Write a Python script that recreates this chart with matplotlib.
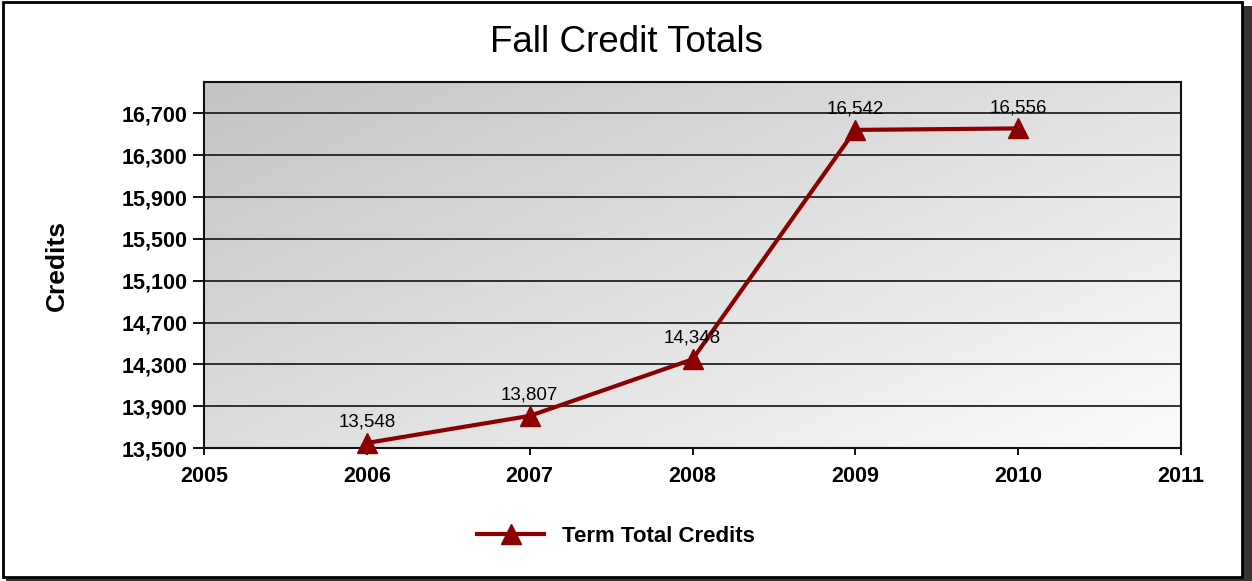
import matplotlib
matplotlib.use("Agg")
import matplotlib.pyplot as plt
import numpy as np
from matplotlib.patches import Rectangle
from matplotlib.ticker import FuncFormatter

years = [2006, 2007, 2008, 2009, 2010]
credits = [13548, 13807, 14348, 16542, 16556]
y_ticks = [13500, 13900, 14300, 14700, 15100, 15500, 15900, 16300, 16700]
x_ticks = [2005, 2006, 2007, 2008, 2009, 2010, 2011]
series_name = "Term Total Credits"

plt.rcParams['font.family'] = ['Liberation Sans', 'DejaVu Sans']

W, H = 1252, 581
fig = plt.figure(figsize=(W / 100, H / 100), dpi=100)
fig.patch.set_facecolor('white')

# border with shadow
fig.patches.append(Rectangle((6 / W, 0), (W - 6) / W, (H - 6) / H, transform=fig.transFigure,
                             facecolor='#333333', edgecolor='none', zorder=0))
fig.patches.append(Rectangle((3 / W, 4 / H), (1242 - 3) / W, (579 - 4) / H, transform=fig.transFigure,
                             facecolor='white', edgecolor='black', linewidth=2, zorder=1))

left, right, top, bottom = 204, 1181, 82, 448
ax = fig.add_axes([left / W, 1 - bottom / H, (right - left) / W, (bottom - top) / H])
ax.set_zorder(2)

# gradient background
gx = np.linspace(0, 1, 200)
gy = np.linspace(0, 1, 100)
GX, GY = np.meshgrid(gx, gy)
grad = (GX * 0.55 + GY * 0.45)
ax.imshow(grad, cmap=matplotlib.colors.LinearSegmentedColormap.from_list('g', ['#c4c4c4', '#fbfbfb']),
          extent=[2005, 2011, 13500, 17000], aspect='auto', origin='upper', zorder=0)

ax.set_xlim(2005, 2011)
ax.set_ylim(13500, 17000)
ax.set_yticks(y_ticks)
ax.set_xticks(x_ticks)
ax.yaxis.set_major_formatter(FuncFormatter(lambda v, p: f"{int(v):,}"))
for yv in y_ticks[1:]:
    ax.axhline(yv, color='#222222', linewidth=1.3, zorder=1)

ax.plot(years, credits, color='#8b0000', linewidth=3, marker='^', markersize=14,
        label=series_name, zorder=3, clip_on=False)
for xv, yv in zip(years, credits):
    ax.annotate(f"{yv:,}", (xv, yv), xytext=(0, 15), textcoords='offset points',
                ha='center', va='center', fontsize=13.5, color='black', zorder=4)

for s in ax.spines.values():
    s.set_linewidth(1.5)
    s.set_color('#111111')
ax.tick_params(axis='y', direction='out', length=8, width=1.3, labelsize=15.5, pad=4)
ax.tick_params(axis='x', direction='out', length=5, width=1.3, labelsize=15.5, pad=8)
for lbl in ax.get_xticklabels() + ax.get_yticklabels():
    lbl.set_fontweight('bold')

fig.text(57 / W, 1 - 265 / H, "Credits", rotation=90, ha='center', va='center',
         fontsize=19, fontweight='bold')
fig.text(627 / W, 1 - 42 / H, "Fall Credit Totals", ha='center', va='center', fontsize=26.5)

leg = fig.legend(loc='center', bbox_to_anchor=(616 / W, 1 - 536 / H), frameon=False,
                 prop={'size': 16, 'weight': 'bold'}, handlelength=3.0, handletextpad=0.8)

fig.savefig('out.png', dpi=100)
